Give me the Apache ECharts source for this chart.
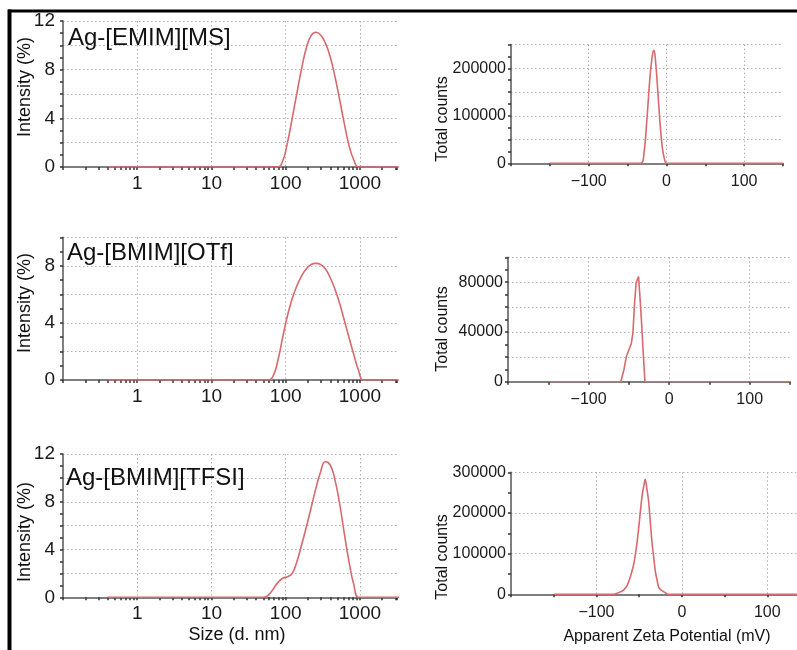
<!DOCTYPE html>
<html><head><meta charset="utf-8">
<script src="https://cdn.jsdelivr.net/npm/echarts@6/dist/echarts.min.js"></script>
<style>html,body{margin:0;padding:0;background:#fff}#c{width:797px;height:650px}</style>
</head><body><div id="c"></div>
<script>
// ---------- DATA ----------
const sizeNm = [0.4,0.4632,0.5365,0.6213,0.7195,0.8332,0.9650,
  1.117,1.294,1.499,1.736,2.010,2.328,2.696,3.122,3.615,4.187,4.849,5.615,6.503,7.531,8.721,
  10.10,11.70,13.54,15.69,18.17,21.04,24.36,28.21,32.67,37.84,43.82,50.75,58.77,68.06,78.82,91.28,
  105.7,122.4,141.8,164.2,190.1,220.2,255.0,295.3,342.0,396.1,458.7,531.2,615.1,712.4,825.0,955.4,
  1106,1281,1484,1718,1990,2305,2669,3091,3580];
const intensityEMIM_MS = [0,0,0,0,0,0,0, 0,0,0,0,0,0,0,0,0,0,0,0,0,0,0,
  0,0,0,0,0,0,0,0,0,0,0,0,0,0,0,0.5,
  2.0,4.0,6.1,8.1,9.8,10.8,11.07,10.85,10.2,9.1,7.5,5.6,3.6,1.8,0.6,0,
  0,0,0,0,0,0,0,0,0];
const intensityBMIM_OTf = [0,0,0,0,0,0,0, 0,0,0,0,0,0,0,0,0,0,0,0,0,0,0,
  0,0,0,0,0,0,0,0,0,0,0,0,0,0.3,1.4,3.0,
  4.5,5.7,6.6,7.3,7.8,8.1,8.17,8.1,7.8,7.2,6.4,5.4,4.2,3.0,1.8,0.7,
  0,0,0,0,0,0,0,0,0];
const intensityBMIM_TFSI = [0,0,0,0,0,0,0, 0,0,0,0,0,0,0,0,0,0,0,0,0,0,0,
  0,0,0,0,0,0,0,0,0,0,0,0,0.2,0.7,1.25,1.6,
  1.72,2.0,3.0,4.4,5.9,7.5,9.1,10.5,11.35,11.1,9.9,7.9,5.4,3.0,1.1,0,
  0,0,0,0,0,0,0,0,0];

const zetaMvEMIM_MS = [-150,-33,-29,-25,-21,-18,-16,-14,-11,-8,-5,-2,0,150];
const zetaCountsEMIM_MS = [0,0,20000,95000,185000,228000,238000,215000,150000,80000,30000,5000,0,0];
const zetaMvBMIM_OTf = [-150,-60,-56,-53,-50,-47,-45,-43,-41,-39.5,-38,-36,-34,-32,-30,150];
const zetaCountsBMIM_OTf = [0,0,10000,20500,25500,30500,39000,62000,79500,81000,84500,66000,45000,21000,0,0];
const zetaMvBMIM_TFSI = [-150,-80,-76,-72,-68,-64,-60,-56,-52,-48,-46,-44,-43,-41,-39,-37,-35,-33,-31,-29,-27,-24,-21,-18,-16,150];
const zetaCountsBMIM_TFSI = [0,0,2500,6000,11000,22000,45000,78000,135000,215000,250000,272000,283000,260000,230000,180000,128000,92000,56000,35000,17000,10000,6000,2000,0,0];

const sizeTickLabels = [1, 10, 100, 1000];
const sizeMinorTicks = [0.2,0.3,0.4,0.5,0.6,0.7,0.8,0.9,2,3,4,5,6,7,8,9,20,30,40,50,60,70,80,90,200,300,400,500,600,700,800,900,2000,3000];
const zetaTickLabels = [-100, 0, 100];
const intensityLabels = [0, 4, 8, 12];
const countsLabelsA = [0, 100000, 200000];
const countsLabelsB = [0, 40000, 80000];
const countsLabelsC = [0, 100000, 200000, 300000];

// ---------- STYLE ----------
const FONT = 'Liberation Sans, Arial, sans-serif';
const RED = '#d8696c';
const AX = '#555';
const TICK = {color:'#333', width:1.5};
const DOT = {color:'#b0b0b0', width:1, type:[1.5,2.5]};

const grids = [], xAxes = [], yAxes = [], series = [];
function addPanel(rect, kind, yMax, yInt, yLabels, xs, ys, smooth) {
  const g = grids.length;
  grids.push(Object.assign({outerBoundsMode:'none', containLabel:false}, rect));
  grids.push(Object.assign({outerBoundsMode:'none', containLabel:false}, rect));
  const fs = kind === 'size' ? 19 : 16;
  if (kind === 'size') {
    xAxes.push({type:'log', logBase:10, gridIndex:g, min:0.1, max:3162.28,
      axisLine:{show:true, onZero:false, lineStyle:{color:AX, width:1.5}},
      axisTick:{show:true, length:3, lineStyle:TICK},
      axisLabel:{margin:7, fontSize:fs, color:'#1a1a1a', fontFamily:FONT,
        formatter: v => sizeTickLabels.some(t => Math.abs(v - t) < 1e-6 * t) ? String(Math.round(v)) : ''},
      splitLine:{show:true, showMinLine:false, showMaxLine:false, lineStyle:DOT}});
    xAxes.push({type:'log', logBase:10, gridIndex:g+1, min:0.1, max:3162.28,
      axisLine:{show:false}, axisLabel:{show:false}, splitLine:{show:false},
      axisTick:{show:true, customValues:sizeMinorTicks, length:3, lineStyle:TICK}});
  } else {
    xAxes.push({type:'value', gridIndex:g, min:-200, max:150, interval:50,
      axisLine:{show:true, onZero:false, lineStyle:{color:AX, width:1.5}},
      axisTick:{show:true, length:3, lineStyle:TICK},
      axisLabel:{margin:10, fontSize:fs, color:'#1a1a1a', fontFamily:FONT,
        formatter: v => zetaTickLabels.includes(v) ? String(v).replace('-', '\u2212') : ''},
      splitLine:{show:false}});
    xAxes.push({type:'value', gridIndex:g+1, min:-200, max:150, interval:100,
      axisLine:{show:false}, axisTick:{show:false}, axisLabel:{show:false},
      splitLine:{show:true, showMinLine:false, showMaxLine:false, lineStyle:DOT}});
  }
  yAxes.push({type:'value', gridIndex:g, min:0, max:yMax, interval:yInt,
    axisLine:{show:true, onZero:false, lineStyle:{color:AX, width:1.5}},
    axisTick:{show:true, length:3, lineStyle:TICK},
    minorTick:{show:true, splitNumber:2, length:3, lineStyle:TICK},
    axisLabel:{margin: kind === 'size' ? 8 : 5, fontSize:fs, color:'#1a1a1a', fontFamily:FONT,
      formatter: v => yLabels.includes(v) ? String(v) : ''},
    splitLine:{show:true, showMinLine:false, lineStyle:DOT}});
  yAxes.push({type:'value', gridIndex:g+1, min:0, max:1, show:false});
  series.push({type:'line', xAxisIndex:xAxes.length-2, yAxisIndex:yAxes.length-2,
    data: xs.map((x, i) => [x, ys[i]]), symbol:'none', smooth: smooth,
    lineStyle:{color:RED, width:1.6}, z:5});
}

addPanel({left:63, top:21, width:334, height:146}, 'size', 12, 2, intensityLabels, sizeNm, intensityEMIM_MS, 0.5);
addPanel({left:63, top:237.3, width:334, height:142.7}, 'size', 10, 2, intensityLabels, sizeNm, intensityBMIM_OTf, 0.5);
addPanel({left:63, top:454, width:334, height:143.3}, 'size', 12, 2, intensityLabels, sizeNm, intensityBMIM_TFSI, 0.5);
addPanel({left:511, top:44.6, width:272, height:118.7}, 'zeta', 250000, 50000, countsLabelsA, zetaMvEMIM_MS, zetaCountsEMIM_MS, 0.4);
addPanel({left:508, top:257.3, width:282, height:124.4}, 'zeta', 100000, 20000, countsLabelsB, zetaMvBMIM_OTf, zetaCountsBMIM_OTf, false);
addPanel({left:511, top:472.3, width:299, height:122}, 'zeta', 300000, 100000, countsLabelsC, zetaMvBMIM_TFSI, zetaCountsBMIM_TFSI, 0.4);

function txt(x, y, text, size, rot, align) {
  return {type:'text', x:x, y:y, rotation: rot || 0, z:10,
    style:{text:text, fontSize:size, fontFamily:FONT, fill:'#111', align: align || 'center', verticalAlign:'middle'}};
}
const R = Math.PI / 2;
const graphic = [
  {type:'line', shape:{x1:9.5, y1:9.5, x2:9.5, y2:660}, style:{stroke:'#000', lineWidth:4}, z:10},
  {type:'line', shape:{x1:8, y1:11, x2:800, y2:11}, style:{stroke:'#000', lineWidth:3}, z:10},
  txt(68, 38, 'Ag-[EMIM][MS]', 24, 0, 'left'),
  txt(67, 253, 'Ag-[BMIM][OTf]', 24, 0, 'left'),
  txt(66, 478.7, 'Ag-[BMIM][TFSI]', 24, 0, 'left'),
  txt(25, 87, 'Intensity (%)', 18, R),
  txt(25, 303, 'Intensity (%)', 18, R),
  txt(25, 532, 'Intensity (%)', 18, R),
  txt(443, 119, 'Total counts', 16, R),
  txt(443, 329, 'Total counts', 16, R),
  txt(443, 557, 'Total counts', 16, R),
  txt(237, 635.5, 'Size (d. nm)', 18),
  txt(667, 637, 'Apparent Zeta Potential (mV)', 16)
];

const chart = echarts.init(document.getElementById('c'), null, {renderer:'canvas'});
chart.setOption({
  animation:false, backgroundColor:'#fff',
  grid:grids, xAxis:xAxes, yAxis:yAxes, series:series, graphic:graphic
});
</script></body></html>
